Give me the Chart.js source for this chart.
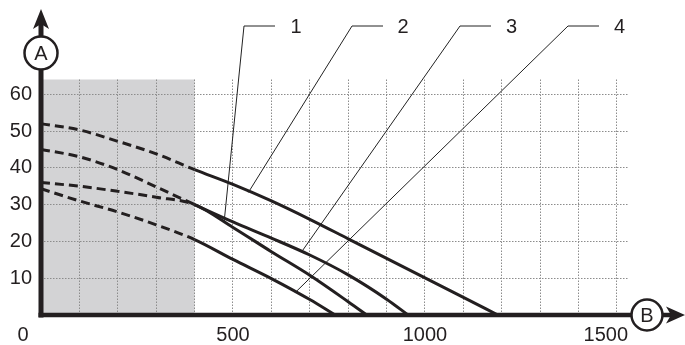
<!DOCTYPE html>
<html>
<head>
<meta charset="utf-8">
<script src="https://cdn.jsdelivr.net/npm/chart.js@4.4.1/dist/chart.umd.min.js"></script>
<style>
html,body{margin:0;padding:0;background:#fff;}
#wrap{width:685px;height:345px;position:relative;}
</style>
</head>
<body>
<div id="wrap"><canvas id="c" width="685" height="345"></canvas></div>
<script>
// ---- data ----
const xTicks = [0,100,200,300,400,500,600,700,800,900,1000,1100,1200,1300,1400,1500];
const xTickLabels = {500:'500', 1000:'1000', 1500:'1500    '};
const yTicks = [0,10,20,30,40,50,60];
const yTickLabels = {10:'10',20:'20',30:'30',40:'40',50:'50',60:'60'};

const curve1X = [0, 100, 200, 300, 400, 500, 600, 700, 800, 848];
const curve1Y = [36, 35, 33.6, 32, 30, 23.8, 17.2, 10.8, 3.6, 0];
const curve2X = [0, 100, 200, 300, 400, 500, 600, 700, 800, 900, 1000, 1100, 1190];
const curve2Y = [52, 50.3, 47.2, 43.8, 39.5, 35.5, 31, 26, 20.7, 15.4, 10.1, 4.8, 0];
const curve3X = [0, 100, 200, 300, 400, 500, 600, 700, 800, 900, 956];
const curve3Y = [45, 43, 39.5, 34.8, 30, 25.3, 20.9, 16.3, 10.9, 4.3, 0];
const curve4X = [0, 100, 200, 300, 400, 500, 600, 700, 766];
const curve4Y = [34.3, 31, 28, 24.5, 20.5, 15.1, 9.9, 4.2, 0];

const shadedLimit = 400;           // grey (dashed) zone upper flow
const curveLabels = ['1','2','3','4'];
const anchorX = [477, 540, 681, 664];
const anchorY = [25.4, 33.3, 17.5, 6.3];
const axisNameY = 'A';
const axisNameX = 'B';
const originLabel = '0';

// ---- build ----
const FONT = '"Liberation Sans", Arial, Helvetica, sans-serif';
const INK = '#231f20';
function pts(xs, ys){ return xs.map((x,i)=>({x:x, y:ys[i]})); }
function mkSet(xs, ys){
  return {
    data: pts(xs, ys),
    showLine: true,
    borderColor: INK,
    borderWidth: 3,
    pointRadius: 0,
    cubicInterpolationMode: 'monotone',
    fill: false,
    segment: {
      borderDash: ctx => (ctx.p0.parsed.x < shadedLimit ? [9,5] : [])
    }
  };
}

const decor = {
  id: 'decor',
  beforeDraw(chart){
    const {ctx, chartArea, scales} = chart;
    const x0 = scales.x.getPixelForValue(0), x1 = scales.x.getPixelForValue(shadedLimit);
    ctx.save();
    ctx.fillStyle = '#d3d3d5';
    ctx.fillRect(x0, chartArea.top, x1 - x0, chartArea.bottom - chartArea.top);
    ctx.restore();
  },
  afterDraw(chart){
    const {ctx, chartArea, scales} = chart;
    const ax = chartArea.left, ay = chartArea.bottom;
    ctx.save();
    ctx.strokeStyle = INK; ctx.fillStyle = INK;
    // y axis
    ctx.lineWidth = 5;
    ctx.beginPath(); ctx.moveTo(ax, ay + 2.5); ctx.lineTo(ax, 70); ctx.stroke();
    ctx.beginPath(); ctx.moveTo(ax, 36); ctx.lineTo(ax, 22); ctx.stroke();
    ctx.beginPath(); ctx.moveTo(ax, 9); ctx.lineTo(ax + 8, 29); ctx.lineTo(ax, 24); ctx.lineTo(ax - 8, 29); ctx.closePath(); ctx.fill();
    ctx.lineWidth = 2.5;
    ctx.beginPath(); ctx.arc(ax, 53, 16.5, 0, Math.PI*2); ctx.stroke();
    // x axis
    ctx.lineWidth = 4.5;
    ctx.beginPath(); ctx.moveTo(ax - 2.5, ay); ctx.lineTo(631, ay); ctx.stroke();
    ctx.beginPath(); ctx.moveTo(662, ay); ctx.lineTo(673, ay); ctx.stroke();
    ctx.beginPath(); ctx.moveTo(685, ay); ctx.lineTo(666, ay - 8.5); ctx.lineTo(671, ay); ctx.lineTo(666, ay + 8.5); ctx.closePath(); ctx.fill();
    ctx.lineWidth = 2.5;
    ctx.beginPath(); ctx.arc(647, ay, 15.5, 0, Math.PI*2); ctx.stroke();
    // letters
    ctx.font = '20px ' + FONT;
    ctx.textAlign = 'center'; ctx.textBaseline = 'middle';
    ctx.fillText(axisNameY, ax, 54);
    ctx.fillText(axisNameX, 647, ay + 1);
    ctx.fillText(originLabel, 23, 335);
    // leaders
    const textX = [296, 403, 511.5, 619.5];
    const elbowX = [244, 352, 460, 568];
    const barLen = 31;
    ctx.lineWidth = 1;
    ctx.strokeStyle = '#222';
    for (let i = 0; i < curveLabels.length; i++){
      const px = scales.x.getPixelForValue(anchorX[i]);
      const py = scales.y.getPixelForValue(anchorY[i]);
      ctx.beginPath();
      ctx.moveTo(px, py); ctx.lineTo(elbowX[i], 26); ctx.lineTo(elbowX[i] + barLen, 26);
      ctx.stroke();
      ctx.fillText(curveLabels[i], textX[i], 27);
    }
    ctx.restore();
  }
};

new Chart(document.getElementById('c'), {
  type: 'scatter',
  data: { datasets: [mkSet(curve1X, curve1Y), mkSet(curve2X, curve2Y), mkSet(curve3X, curve3Y), mkSet(curve4X, curve4Y)] },
  options: {
    responsive: false,
    animation: false,
    events: [],
    layout: { padding: { left: 0, top: 79.5, right: 56.5, bottom: 0 } },
    plugins: { legend: { display: false }, tooltip: { enabled: false } },
    scales: {
      x: {
        type: 'linear', min: 0, max: 1530,
        afterBuildTicks: s => { s.ticks = xTicks.map(v => ({value: v})); },
        afterFit: s => { s.height = 30; },
        grid: { color: '#8c8c8c', lineWidth: 1, drawTicks: false },
        border: { display: false, dash: [1.5, 1.5] },
        ticks: {
          autoSkip: false, maxRotation: 0, padding: 8,
          color: INK, font: { family: FONT, size: 20 },
          callback: v => (xTickLabels[v] || '')
        }
      },
      y: {
        type: 'linear', min: 0, max: 64,
        afterBuildTicks: s => { s.ticks = yTicks.map(v => ({value: v})); },
        afterFit: s => { s.width = 41; },
        grid: { color: '#8c8c8c', lineWidth: 1, drawTicks: false },
        border: { display: false, dash: [1.5, 1.5] },
        ticks: {
          autoSkip: false, padding: 9,
          color: INK, font: { family: FONT, size: 20 },
          callback: v => (yTickLabels[v] || '')
        }
      }
    }
  },
  plugins: [decor]
});
</script>
</body>
</html>
